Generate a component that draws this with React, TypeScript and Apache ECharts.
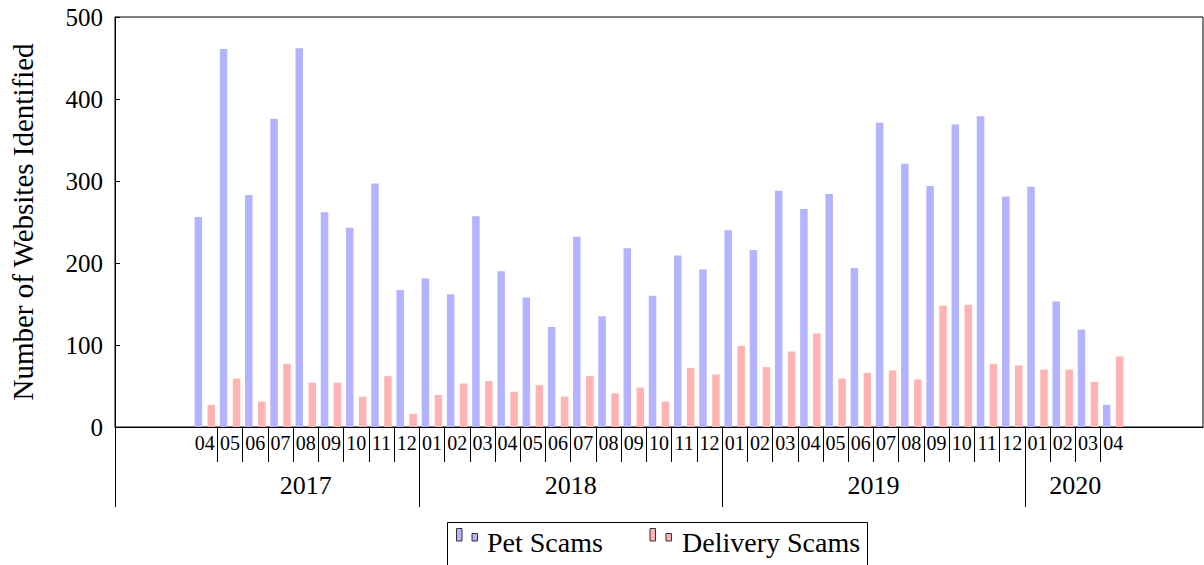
import React, { useEffect, useRef } from "react";
import * as echarts from "echarts";

const monthLabels = [
  "04", "05", "06", "07", "08", "09", "10", "11", "12",
  "01", "02", "03", "04", "05", "06", "07", "08", "09", "10", "11", "12",
  "01", "02", "03", "04", "05", "06", "07", "08", "09", "10", "11", "12",
  "01", "02", "03", "04",
];
const yearLabels = ["2017", "2018", "2019", "2020"];
const yearMonthCounts = [9, 12, 12, 4];

const petScams = [
  256, 461, 283, 376, 462, 262, 243, 297, 167,
  181, 162, 257, 190, 158, 122, 232, 135, 218, 160, 209, 192,
  240, 216, 288, 266, 284, 194, 371, 321, 294, 369, 379, 281,
  293, 153, 119, 27,
];
const deliveryScams = [
  27, 59, 31, 77, 54, 54, 37, 62, 16,
  39, 53, 56, 43, 51, 37, 62, 41, 48, 31, 72, 64,
  99, 73, 92, 114, 59, 66, 69, 58, 148, 149, 77, 75,
  70, 70, 55, 86,
];
const seriesNames = ["Pet Scams", "Delivery Scams"];
const yTicks = { min: 0, max: 500, interval: 100 };

const FONT = "Liberation Serif";
const BLUE = "#b3b3ff";
const PINK = "#ffb3b3";

export default function App() {
  const ref = useRef<HTMLDivElement>(null);

  useEffect(() => {
    if (!ref.current) return;
    const chart = echarts.init(ref.current, null, { renderer: "svg" });

    const xMin = -3.56;
    const xMax = monthLabels.length - 1 + 3.56;
    const off = 0.257;

    const yearCenters: number[] = [];
    const yearBounds: number[] = [xMin];
    let s = 0;
    yearMonthCounts.forEach((c, k) => {
      yearCenters.push(s + (c - 1) / 2);
      if (k > 0) yearBounds.push(s - 0.5);
      s += c;
    });
    const monthIdx = monthLabels.map((_, i) => i);
    const monthSeps = monthLabels.slice(1).map((_, i) => i + 0.5);

    const option: any = {
      animation: false,
      textStyle: { fontFamily: FONT },
      grid: {
        left: 114,
        top: 17,
        width: 1089,
        height: 410,
        show: true,
        borderColor: "#000",
        borderWidth: 1,
        backgroundColor: "transparent",
      },
      xAxis: [
        {
          type: "value",
          min: xMin,
          max: xMax,
          position: "bottom",
          offset: 0,
          axisLine: { show: true, onZero: false, lineStyle: { color: "#000", width: 1 } },
          axisTick: {
            show: true,
            customValues: monthSeps,
            length: 35,
            lineStyle: { color: "#000", width: 1 },
          },
          axisLabel: {
            customValues: monthIdx,
            formatter: (v: number) => monthLabels[Math.round(v)] ?? "",
            fontFamily: FONT,
            fontSize: 20,
            color: "#000",
            margin: 6,
          },
          splitLine: { show: false },
        },
        {
          type: "value",
          min: xMin,
          max: xMax,
          position: "bottom",
          offset: 0,
          axisLine: { show: false, onZero: false },
          axisTick: {
            show: true,
            customValues: yearBounds,
            length: 80,
            lineStyle: { color: "#000", width: 1 },
          },
          axisLabel: {
            customValues: yearCenters,
            formatter: (v: number) => {
              const k = yearCenters.findIndex((c) => Math.abs(c - v) < 1e-6);
              return k >= 0 ? yearLabels[k] : "";
            },
            fontFamily: FONT,
            fontSize: 26,
            color: "#000",
            margin: 45,
          },
          splitLine: { show: false },
        },
      ],
      yAxis: {
        type: "value",
        min: yTicks.min,
        max: yTicks.max,
        interval: yTicks.interval,
        name: "Number of Websites Identified",
        nameLocation: "middle",
        nameRotate: 90,
        nameGap: 78,
        nameTextStyle: { fontFamily: FONT, fontSize: 29, color: "#000" },
        axisLine: { show: true, onZero: false, lineStyle: { color: "#000", width: 1 } },
        axisTick: { show: true, inside: true, length: 5, lineStyle: { color: "#000" } },
        axisLabel: { fontFamily: FONT, fontSize: 25, color: "#000", margin: 12 },
        splitLine: { show: false },
      },
      series: [
        {
          name: seriesNames[0],
          type: "bar",
          xAxisIndex: 0,
          barWidth: 7.5,
          barGap: "-100%",
          itemStyle: { color: BLUE },
          data: petScams.map((v, i) => [i - off, v]),
        },
        {
          name: seriesNames[1],
          type: "bar",
          xAxisIndex: 0,
          barWidth: 7.5,
          barGap: "-100%",
          itemStyle: { color: PINK },
          data: deliveryScams.map((v, i) => [i + off, v]),
        },
      ],
      graphic: [
        {
          type: "rect",
          shape: { x: 447.5, y: 522.5, width: 420, height: 60 },
          style: { fill: "#fff", stroke: "#000", lineWidth: 1 },
        },
        {
          type: "rect",
          shape: { x: 456.5, y: 528.5, width: 5.5, height: 12.5 },
          style: { fill: BLUE, stroke: "#333", lineWidth: 1 },
        },
        {
          type: "rect",
          shape: { x: 472, y: 533.5, width: 5.5, height: 7.5 },
          style: { fill: BLUE, stroke: "#333", lineWidth: 1 },
        },
        {
          type: "text",
          x: 487,
          y: 542,
          style: {
            text: seriesNames[0],
            fontFamily: FONT,
            fontSize: 28,
            fill: "#000",
            verticalAlign: "middle",
            align: "left",
          },
        },
        {
          type: "rect",
          shape: { x: 650, y: 528.5, width: 5.5, height: 12.5 },
          style: { fill: PINK, stroke: "#333", lineWidth: 1 },
        },
        {
          type: "rect",
          shape: { x: 666, y: 533.5, width: 5.5, height: 7.5 },
          style: { fill: PINK, stroke: "#333", lineWidth: 1 },
        },
        {
          type: "text",
          x: 682,
          y: 542,
          style: {
            text: seriesNames[1],
            fontFamily: FONT,
            fontSize: 28,
            fill: "#000",
            verticalAlign: "middle",
            align: "left",
          },
        },
      ],
    };

    chart.setOption(option);
    return () => chart.dispose();
  }, []);

  return (
    <div
      ref={ref}
      style={{ position: "absolute", left: 0, top: 0, width: 1204, height: 565 }}
    />
  );
}
